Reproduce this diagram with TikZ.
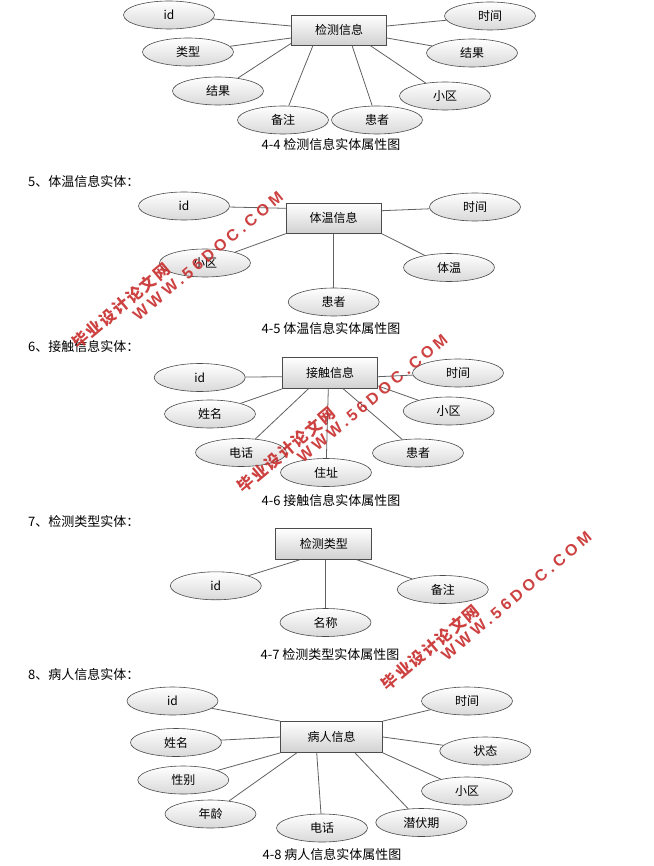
\documentclass[tikz,border=0pt]{standalone}
\usepackage{fontspec}
\setmainfont{Noto Sans CJK SC}
\newfontfamily\wmcjk[LetterSpace=10]{Noto Sans CJK SC}
\newfontfamily\wmlat[LetterSpace=24]{Liberation Sans Bold}
\usetikzlibrary{shapes.geometric}
\definecolor{wmred}{RGB}{200,45,45}
\begin{document}
\begin{tikzpicture}[x=1pt,y=-1pt,
  attr/.style={ellipse, draw=black!70, line width=0.6pt, top color=white, bottom color=black!15,
    minimum width=91pt, minimum height=28pt, inner sep=0pt, font=\fontsize{12}{12}\selectfont},
  ent/.style={rectangle, draw=black!70, line width=0.8pt, top color=white, bottom color=black!18,
    minimum width=95pt, minimum height=30pt, inner sep=0pt, font=\fontsize{12}{12}\selectfont},
  conn/.style={draw=black!62, line width=0.8pt},
  captext/.style={font=\fontsize{13}{13}\selectfont, inner sep=0pt},
  sect/.style={font=\fontsize{13}{13}\selectfont, anchor=west, inner sep=0pt},
  wmc/.style={text=wmred, opacity=0.9, font=\wmcjk\bfseries\fontsize{16}{16}\selectfont, rotate=40, inner sep=0pt},
  wml/.style={text=wmred, opacity=0.9, font=\wmlat\fontsize{16}{16}\selectfont, rotate=40, inner sep=0pt}
]
\useasboundingbox[fill=white] (0,0) rectangle (653,866);

% ---------- Diagram 4-4 ----------
\node[ent] (b1) at (339,30) {检测信息};
\node[attr] (e11) at (169,15) {id};
\node[attr] (e12) at (490,16) {时间};
\node[attr] (e13) at (188,52) {类型};
\node[attr] (e14) at (472,53) {结果};
\node[attr] (e15) at (218,91) {结果};
\node[attr] (e16) at (445,96) {小区};
\node[attr] (e17) at (283,120) {备注};
\node[attr] (e18) at (377,120) {患者};
\draw[conn] ([yshift=4pt]b1.west) -- (e11);
\draw[conn] ([yshift=-8pt]b1.west) -- (e13);
\draw[conn] ([yshift=2pt]b1.south west) -- (e15);
\draw[conn] ([xshift=-26pt]b1.south) -- (e17);
\draw[conn] ([xshift=13pt]b1.south) -- (e18);
\draw[conn] ([xshift=31pt]b1.south) -- (e16);
\draw[conn] ([yshift=-8pt]b1.east) -- (e14);
\draw[conn] ([yshift=4pt]b1.east) -- (e12);
\node[captext] (c1) at (331,145) {4-4 检测信息实体属性图};

% ---------- Diagram 4-5 ----------
\node[sect] (t2) at (28,181.5) {5、体温信息实体：};
\node[ent] (b2) at (333.7,218.3) {体温信息};
\node[attr] (e21) at (184,206) {id};
\node[attr] (e22) at (475,207) {时间};
\node[attr] (e23) at (205,263) {小区};
\node[attr] (e24) at (449,267.5) {体温};
\node[attr] (e25) at (333.7,302) {患者};
\draw[conn] ([yshift=10pt]b2.west) -- (e21);
\draw[conn] ([yshift=7.6pt]b2.east) -- (e22);
\draw[conn] (b2.south west) -- (e23);
\draw[conn] (b2.south) -- (e25);
\draw[conn] (b2.south east) -- (e24);
\node[captext] (c2) at (331,329) {4-5 体温信息实体属性图};

% ---------- Diagram 4-6 ----------
\node[sect] (t3) at (28,347) {6、接触信息实体：};
\node[ent, minimum height=31pt] (b3) at (330,373) {接触信息};
\node[attr] (e31) at (199.7,377.5) {id};
\node[attr] (e32) at (458,373) {时间};
\node[attr] (e33) at (210,414) {姓名};
\node[attr] (e34) at (448.7,411) {小区};
\node[attr] (e35) at (241,452.5) {电话};
\node[attr] (e36) at (326,472.5) {住址};
\node[attr] (e37) at (418,453) {患者};
\draw[conn] ([yshift=-3.7pt]b3.west) -- (e31);
\draw[conn] ([yshift=-3.7pt]b3.east) -- (e32);
\draw[conn] (b3.south west) -- (e33);
\draw[conn] ([xshift=-21.7pt]b3.south) -- (e35);
\draw[conn] ([xshift=-1.7pt]b3.south) -- (e36);
\draw[conn] ([xshift=13.3pt]b3.south) -- (e37);
\draw[conn] ([yshift=3pt]b3.south east) -- (e34);
\node[captext] (c3) at (331,501) {4-6 接触信息实体属性图};

% ---------- Diagram 4-7 ----------
\node[sect] (t4) at (28,522) {7、检测类型实体：};
\node[ent, minimum width=96pt, minimum height=31pt] (b4) at (323.8,543.8) {检测类型};
\node[attr] (e41) at (215.8,585.8) {id};
\node[attr] (e42) at (442.8,589.5) {备注};
\node[attr] (e43) at (325.5,622.5) {名称};
\draw[conn] ([xshift=-23.8pt]b4.south) -- (e41);
\draw[conn] ([xshift=1.7pt]b4.south) -- (e43);
\draw[conn] ([xshift=32.9pt]b4.south) -- (e42);
\node[captext] (c4) at (330,655) {4-7 检测类型实体属性图};

% ---------- Diagram 4-8 ----------
\node[sect] (t5) at (28,675) {8、病人信息实体：};
\node[ent, minimum width=102pt, minimum height=31pt] (b5) at (331.5,737) {病人信息};
\node[attr] (e51) at (172.5,701) {id};
\node[attr] (e52) at (467,701) {时间};
\node[attr] (e53) at (176,742.5) {姓名};
\node[attr] (e54) at (485.3,751) {状态};
\node[attr] (e55) at (183.3,780) {性别};
\node[attr] (e56) at (467,791) {小区};
\node[attr] (e57) at (210.5,814) {年龄};
\node[attr] (e58) at (322,828) {电话};
\node[attr] (e59) at (421.3,822.5) {潜伏期};
\draw[conn] (b5.north west) -- (e51);
\draw[conn] (b5.west) -- (e53);
\draw[conn] (b5.south west) -- (e55);
\draw[conn] ([xshift=-34.8pt]b5.south) -- (e57);
\draw[conn] ([xshift=-14.8pt]b5.south) -- (e58);
\draw[conn] ([xshift=23.5pt]b5.south) -- (e59);
\draw[conn] (b5.south east) -- (e56);
\draw[conn] (b5.east) -- (e54);
\draw[conn] (b5.north east) -- (e52);
\node[captext] (c5) at (332,855) {4-8 病人信息实体属性图};

% ---------- Watermarks ----------
\node[wmc] (w1a) at (121,306) {毕业设计论文网};
\node[wml] (w1b) at (208,256) {WWW.56DOC.COM};
\node[wmc] (w2a) at (286.5,450) {毕业设计论文网};
\node[wml] (w2b) at (372.5,398.5) {WWW.56DOC.COM};
\node[wmc] (w3a) at (430.5,647.5) {毕业设计论文网};
\node[wml] (w3b) at (516.5,596) {WWW.56DOC.COM};
\end{tikzpicture}
\end{document}
